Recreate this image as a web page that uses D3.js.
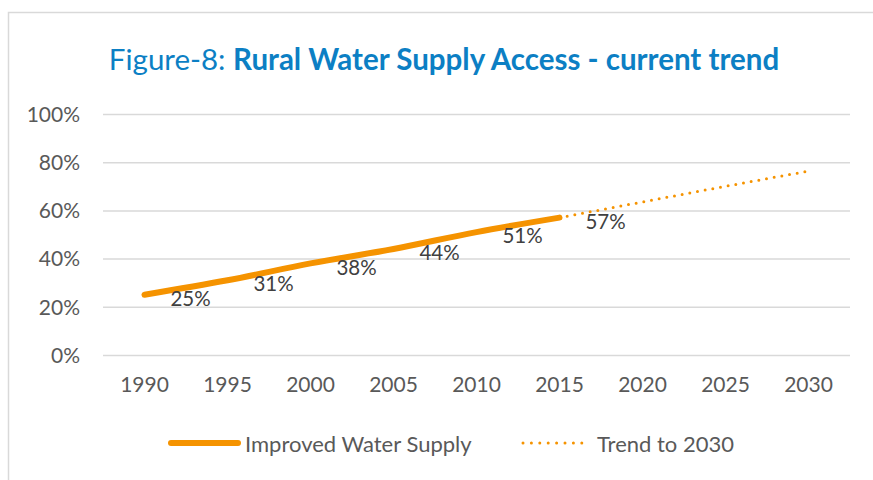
<!DOCTYPE html>
<html lang="en">
<head>
<meta charset="utf-8">
<title>Rural Water Supply Access - current trend</title>
<script src="https://cdn.jsdelivr.net/npm/d3@7"></script>
<style>
    body { margin: 0; background: #fff; }
    svg text { font-family: Lato, "Open Sans", sans-serif; }
    .axis text { fill: #595959; font-size: 21px; }
    .grid line { stroke: #d9d9d9; stroke-width: 1.5; }
    .label { fill: #404040; font-size: 20.5px; }
    .legend text { fill: #595959; font-size: 22px; }
</style>
</head>
<body>
<script>
// data
var years = ["1990", "1995", "2000", "2005", "2010", "2015", "2020", "2025", "2030"];
var improvedYears = ["1990", "1995", "2000", "2005", "2010", "2015"];
var improved = [25, 31, 38, 44, 51, 57];
var trendYears = ["2015", "2020", "2025", "2030"];
var trend = [57, 63.5, 70, 76.3];
var yTicks = [0, 20, 40, 60, 80, 100];

var W = 873, H = 480;
var orange = "#f59300";
var plot = { left: 103, right: 850, top: 114, bottom: 355 };

var svg = d3.select("body").append("svg")
    .attr("width", W)
    .attr("height", H);

// chart frame
svg.append("rect")
    .attr("x", 8.5).attr("y", 12.5)
    .attr("width", 900).attr("height", 500)
    .attr("fill", "#fff")
    .attr("stroke", "#d9d9d9")
    .attr("stroke-width", 1.5);

// title
var title = svg.append("text")
    .attr("x", 444)
    .attr("y", 70)
    .attr("text-anchor", "middle")
    .attr("fill", "#0c7fc4")
    .style("font-size", "29.5px");
title.append("tspan").text("Figure-8: ");
title.append("tspan").attr("font-weight", "bold").text("Rural Water Supply Access - current trend");

// scales
var x = d3.scaleBand().domain(years).range([plot.left, plot.right]);
var cx = function(d) { return x(d) + x.bandwidth() / 2; };
var y = d3.scaleLinear().domain([0, 100]).range([plot.bottom, plot.top]);

// y axis + gridlines
var yAxis = d3.axisLeft(y)
    .tickValues(yTicks)
    .tickSize(-(plot.right - plot.left))
    .tickPadding(23)
    .tickFormat(function(d) { return d + "%"; });

svg.append("g")
    .attr("class", "axis grid")
    .attr("transform", "translate(" + plot.left + ",0)")
    .call(yAxis)
    .call(function(g) { g.select(".domain").remove(); })
    .selectAll("text").attr("dy", "0.35em");

// x axis
var xAxis = d3.axisBottom(x).tickSize(0).tickPadding(22);
svg.append("g")
    .attr("class", "axis")
    .attr("transform", "translate(0," + plot.bottom + ")")
    .call(xAxis)
    .call(function(g) { g.select(".domain").remove(); });

// lines
var line = d3.line()
    .x(function(d) { return cx(d[0]); })
    .y(function(d) { return y(d[1]); })
    .curve(d3.curveMonotoneX);

svg.append("path")
    .datum(d3.zip(trendYears, trend))
    .attr("d", line)
    .attr("fill", "none")
    .attr("stroke", orange)
    .attr("stroke-width", 3)
    .attr("stroke-linecap", "round")
    .attr("stroke-dasharray", "0 7.8");

svg.append("path")
    .datum(d3.zip(improvedYears, improved))
    .attr("d", line)
    .attr("fill", "none")
    .attr("stroke", orange)
    .attr("stroke-width", 6)
    .attr("stroke-linecap", "round");

// data labels
svg.selectAll(".label")
    .data(d3.zip(improvedYears, improved))
    .enter()
    .append("text")
    .attr("class", "label")
    .attr("x", function(d) { return cx(d[0]) + 46; })
    .attr("y", function(d) { return y(d[1]) + 4; })
    .attr("dy", "0.35em")
    .attr("text-anchor", "middle")
    .text(function(d) { return d[1] + "%"; });

// legend
var legend = svg.append("g").attr("class", "legend");
legend.append("line")
    .attr("x1", 171).attr("x2", 238).attr("y1", 443).attr("y2", 443)
    .attr("stroke", orange).attr("stroke-width", 6).attr("stroke-linecap", "round");
legend.append("text").attr("x", 245).attr("y", 444).attr("dy", "0.35em").text("Improved Water Supply");
legend.append("line")
    .attr("x1", 523).attr("x2", 590).attr("y1", 443).attr("y2", 443)
    .attr("stroke", orange).attr("stroke-width", 3).attr("stroke-linecap", "round")
    .attr("stroke-dasharray", "0 8.4");
legend.append("text").attr("x", 597).attr("y", 444).attr("dy", "0.35em").text("Trend to 2030");
</script>
</body>
</html>
